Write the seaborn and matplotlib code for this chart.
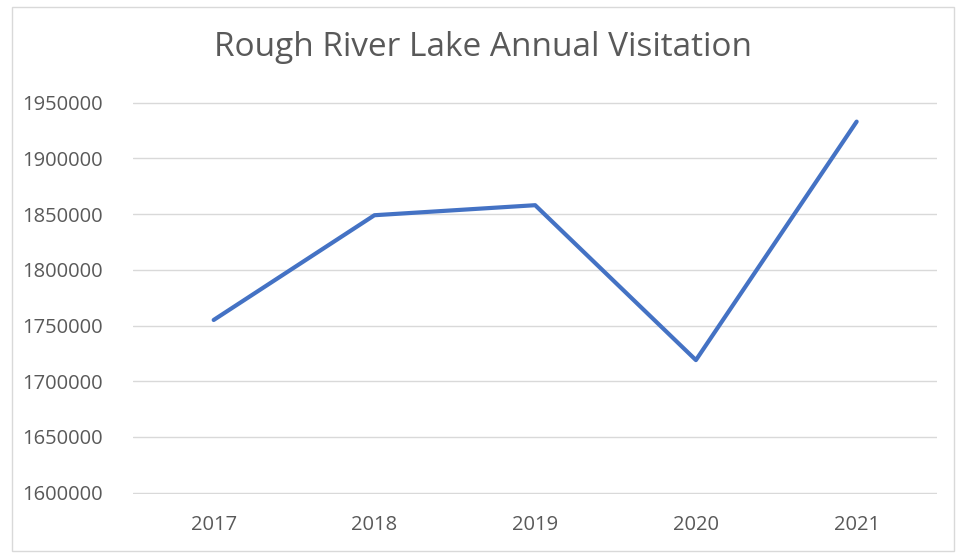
import matplotlib
matplotlib.use("Agg")
import matplotlib.pyplot as plt
import seaborn as sns
import pandas as pd

# data
years = ["2017", "2018", "2019", "2020", "2021"]
visits = [1755000, 1849000, 1858000, 1719000, 1933000]
y_ticks = [1600000, 1650000, 1700000, 1750000, 1800000, 1850000, 1900000, 1950000]

df = pd.DataFrame({"Year": years, "Visitation": visits})

sns.set_theme(style="white")
plt.rcParams['font.family'] = ['Open Sans', 'DejaVu Sans']

fig = plt.figure(figsize=(9.66, 5.58), dpi=100)
ax = fig.add_axes([0.138, 0.115, 0.832, 0.702])

sns.lineplot(data=df, x="Year", y="Visitation", color="#4472C4",
             linewidth=3, ax=ax)

ax.set_xlim(-0.5, 4.5)
ax.set_ylim(1599000, 1950500)
ax.set_yticks(y_ticks)
ax.set_yticklabels([str(t) for t in y_ticks])
ax.grid(axis="y", color="#D9D9D9", linewidth=1)
ax.set_axisbelow(True)
for s in ax.spines.values():
    s.set_visible(False)
ax.tick_params(axis="both", length=0, labelsize=14.5, colors="#595959")
ax.tick_params(axis="y", pad=22)
ax.tick_params(axis="x", pad=15)
ax.set_xlabel("")
ax.set_ylabel("")

fig.text(0.5, 0.914, "Rough River Lake Annual Visitation", ha="center",
         va="center", fontsize=24, color="#595959")

# light frame around the chart area
fig.patches.append(plt.Rectangle((0.012, 0.012), 0.976, 0.976, transform=fig.transFigure,
                                 fill=False, edgecolor="#D9D9D9", linewidth=1))

fig.savefig("out.png", dpi=100)
